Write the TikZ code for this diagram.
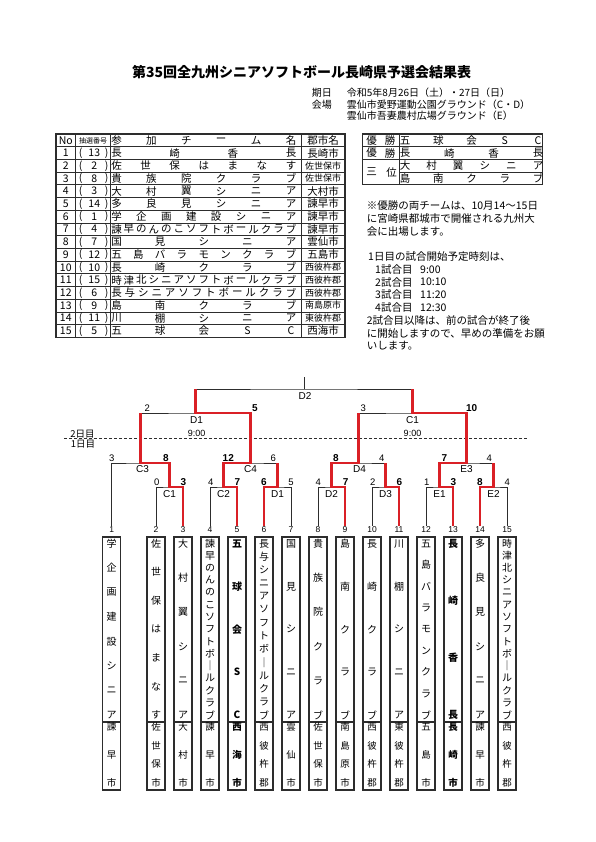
\documentclass[tikz,border=0pt]{standalone}
\usepackage{fontspec}
\setmainfont{Noto Sans CJK JP}
\newfontfamily\arl{Liberation Sans}
\usepackage{tikz}
\usetikzlibrary{calc}
\definecolor{figline}{RGB}{45,45,45}
\definecolor{winred}{RGB}{218,32,38}
\tikzset{
  bk/.style  ={draw=figline, line width=0.7pt},
  rd/.style  ={draw=winred, line width=2.4pt, line join=miter},
  tbl/.style ={draw=figline, line width=0.6pt},
  tblb/.style={draw=figline, line width=1.2pt},
  tbox/.style={draw=figline, line width=1.2pt},
  jp/.style  ={font=\fontsize{10.5}{12}\selectfont, inner sep=0pt},
  jph/.style ={font=\fontsize{10}{12}\selectfont, inner sep=0pt, anchor=west},
  jps/.style ={font=\fontsize{9}{10}\selectfont, inner sep=0pt},
  jpt/.style ={font=\fontsize{7}{8}\selectfont, inner sep=0pt},
  note/.style={font=\fontsize{10.5}{12}\selectfont, inner sep=0pt, anchor=west},
  vj/.style  ={font=\fontsize{10}{11}\selectfont, inner sep=0pt},
  vjb/.style ={font=\bfseries\fontsize{10}{11}\selectfont, inner sep=0pt},
  vr/.style  ={font=\fontsize{9.5}{10}\selectfont, inner sep=0pt},
  vrb/.style ={font=\bfseries\fontsize{9.5}{10}\selectfont, inner sep=0pt},
  scr/.style ={font=\arl\fontsize{9.5}{10}\selectfont, inner sep=0.5pt, anchor=south},
  scw/.style ={scr, font=\arl\bfseries\fontsize{10}{11}\selectfont},
  mlab/.style={font=\arl\fontsize{10}{11}\selectfont, inner sep=0pt},
  tlab/.style={font=\arl\fontsize{9}{10}\selectfont, inner sep=0pt},
  tno/.style ={font=\arl\fontsize{8.5}{9}\selectfont, inner sep=1pt},
  day/.style ={font=\fontsize{9.5}{10}\selectfont, inner sep=0pt},
}
% characters spread evenly over a cell (horizontal / vertical)
\newcommand\spreadx[6][]{%
  \xdef\nitems{0}%
  \foreach \kana in {#6}{\pgfmathtruncatemacro\tmpn{\nitems+1}\global\let\nitems\tmpn}%
  \foreach \kana [count=\i from 0] in {#6}{%
    \pgfmathsetmacro\chpos{#3+(#4-#3)*\i/(\nitems-1)}%
    \node[jp,#1] (#2-\i) at (\chpos,#5) {\kana};}%
}
\newcommand\spready[6][vj]{%
  \xdef\nitems{0}%
  \foreach \kana in {#6}{\pgfmathtruncatemacro\tmpn{\nitems+1}\global\let\nitems\tmpn}%
  \foreach \kana [count=\i from 0] in {#6}{%
    \pgfmathsetmacro\chpos{#4+(#5-#4)*\i/(\nitems-1)}%
    \node[#1] (#2-\i) at (#3,\chpos) {\kana};}%
}

\begin{document}
\begin{tikzpicture}[x=1pt,y=-1pt]
  \path[fill=white,use as bounding box] (0,0) rectangle (595,842);
  % title and dates
  \node[font=\bfseries\fontsize{14}{16}\selectfont, inner sep=0pt] (title) at (301.7,71.7) {第35回全九州シニアソフトボール長崎県予選会結果表};
  \node[jph] (kijitsu) at (311.7,92.7) {期日};
  \node[jph] (kijitsuv) at (346.7,92.7) {令和5年8月26日（土）・27日（日）};
  \node[jph] (kaijo) at (311.7,104.3) {会場};
  \node[jph] (kaijov1) at (346.7,104.3) {雲仙市愛野運動公園グラウンド（C・D）};
  \node[jph] (kaijov2) at (346.7,115.7) {雲仙市吾妻農村広場グラウンド（E）};

  % entry table
  \draw[tblb] (56,134) rectangle (345,337.2);
  \draw[tbl] (56,146.7) -- (345,146.7);
  \draw[tbl] (56,159.4) -- (345,159.4);
  \draw[tbl] (56,172.1) -- (345,172.1);
  \draw[tbl] (56,184.8) -- (345,184.8);
  \draw[tbl] (56,197.5) -- (345,197.5);
  \draw[tbl] (56,210.2) -- (345,210.2);
  \draw[tbl] (56,222.9) -- (345,222.9);
  \draw[tbl] (56,235.6) -- (345,235.6);
  \draw[tbl] (56,248.3) -- (345,248.3);
  \draw[tbl] (56,261) -- (345,261);
  \draw[tbl] (56,273.7) -- (345,273.7);
  \draw[tbl] (56,286.4) -- (345,286.4);
  \draw[tbl] (56,299.1) -- (345,299.1);
  \draw[tbl] (56,311.8) -- (345,311.8);
  \draw[tbl] (56,324.5) -- (345,324.5);
  \draw[tbl] (75.7,134) -- (75.7,337.2);
  \draw[tbl] (110.7,134) -- (110.7,337.2);
  \draw[tbl] (301,134) -- (301,337.2);
  \node[jp] (hno) at (65.8,140.35) {No};
  \node[jpt] (hlot) at (93.2,140.35) {抽選番号};
  \spreadx{hteam}{116.5}{291}{140.35}{参,加,チ,ー,ム,名}
  \node[jp] (hcity) at (323,140.35) {郡市名};
  \node[jp] (no1) at (65.8,153.05) {1}; \node[jp] (lb1) at (80.7,153.05) {(}; \node[jp] (lot1) at (94.3,153.05) {13}; \node[jp] (rb1) at (106.7,153.05) {)};
  \spreadx{tm1}{116.5}{291}{153.05}{長,崎,香,長} \node[jp] (ci1) at (323,153.05) {長崎市};
  \node[jp] (no2) at (65.8,165.75) {2}; \node[jp] (lb2) at (80.7,165.75) {(}; \node[jp] (lot2) at (94.3,165.75) {2}; \node[jp] (rb2) at (106.7,165.75) {)};
  \spreadx{tm2}{116.5}{291}{165.75}{佐,世,保,は,ま,な,す} \node[jps] (ci2) at (323,165.75) {佐世保市};
  \node[jp] (no3) at (65.8,178.45) {3}; \node[jp] (lb3) at (80.7,178.45) {(}; \node[jp] (lot3) at (94.3,178.45) {8}; \node[jp] (rb3) at (106.7,178.45) {)};
  \spreadx{tm3}{116.5}{291}{178.45}{貴,族,院,ク,ラ,ブ} \node[jps] (ci3) at (323,178.45) {佐世保市};
  \node[jp] (no4) at (65.8,191.15) {4}; \node[jp] (lb4) at (80.7,191.15) {(}; \node[jp] (lot4) at (94.3,191.15) {3}; \node[jp] (rb4) at (106.7,191.15) {)};
  \spreadx{tm4}{116.5}{291}{191.15}{大,村,翼,シ,ニ,ア} \node[jp] (ci4) at (323,191.15) {大村市};
  \node[jp] (no5) at (65.8,203.85) {5}; \node[jp] (lb5) at (80.7,203.85) {(}; \node[jp] (lot5) at (94.3,203.85) {14}; \node[jp] (rb5) at (106.7,203.85) {)};
  \spreadx{tm5}{116.5}{291}{203.85}{多,良,見,シ,ニ,ア} \node[jp] (ci5) at (323,203.85) {諫早市};
  \node[jp] (no6) at (65.8,216.55) {6}; \node[jp] (lb6) at (80.7,216.55) {(}; \node[jp] (lot6) at (94.3,216.55) {1}; \node[jp] (rb6) at (106.7,216.55) {)};
  \spreadx{tm6}{116.5}{291}{216.55}{学,企,画,建,設,シ,ニ,ア} \node[jp] (ci6) at (323,216.55) {諫早市};
  \node[jp] (no7) at (65.8,229.25) {7}; \node[jp] (lb7) at (80.7,229.25) {(}; \node[jp] (lot7) at (94.3,229.25) {4}; \node[jp] (rb7) at (106.7,229.25) {)};
  \spreadx{tm7}{116.5}{291}{229.25}{諫,早,の,ん,の,こ,ソ,フ,ト,ボ,ー,ル,ク,ラ,ブ} \node[jp] (ci7) at (323,229.25) {諫早市};
  \node[jp] (no8) at (65.8,241.95) {8}; \node[jp] (lb8) at (80.7,241.95) {(}; \node[jp] (lot8) at (94.3,241.95) {7}; \node[jp] (rb8) at (106.7,241.95) {)};
  \spreadx{tm8}{116.5}{291}{241.95}{国,見,シ,ニ,ア} \node[jp] (ci8) at (323,241.95) {雲仙市};
  \node[jp] (no9) at (65.8,254.65) {9}; \node[jp] (lb9) at (80.7,254.65) {(}; \node[jp] (lot9) at (94.3,254.65) {12}; \node[jp] (rb9) at (106.7,254.65) {)};
  \spreadx{tm9}{116.5}{291}{254.65}{五,島,バ,ラ,モ,ン,ク,ラ,ブ} \node[jp] (ci9) at (323,254.65) {五島市};
  \node[jp] (no10) at (65.8,267.35) {10}; \node[jp] (lb10) at (80.7,267.35) {(}; \node[jp] (lot10) at (94.3,267.35) {10}; \node[jp] (rb10) at (106.7,267.35) {)};
  \spreadx{tm10}{116.5}{291}{267.35}{長,崎,ク,ラ,ブ} \node[jps] (ci10) at (323,267.35) {西彼杵郡};
  \node[jp] (no11) at (65.8,280.05) {11}; \node[jp] (lb11) at (80.7,280.05) {(}; \node[jp] (lot11) at (94.3,280.05) {15}; \node[jp] (rb11) at (106.7,280.05) {)};
  \spreadx{tm11}{116.5}{291}{280.05}{時,津,北,シ,ニ,ア,ソ,フ,ト,ボ,ー,ル,ク,ラ,ブ} \node[jps] (ci11) at (323,280.05) {西彼杵郡};
  \node[jp] (no12) at (65.8,292.75) {12}; \node[jp] (lb12) at (80.7,292.75) {(}; \node[jp] (lot12) at (94.3,292.75) {6}; \node[jp] (rb12) at (106.7,292.75) {)};
  \spreadx{tm12}{116.5}{291}{292.75}{長,与,シ,ニ,ア,ソ,フ,ト,ボ,ー,ル,ク,ラ,ブ} \node[jps] (ci12) at (323,292.75) {西彼杵郡};
  \node[jp] (no13) at (65.8,305.45) {13}; \node[jp] (lb13) at (80.7,305.45) {(}; \node[jp] (lot13) at (94.3,305.45) {9}; \node[jp] (rb13) at (106.7,305.45) {)};
  \spreadx{tm13}{116.5}{291}{305.45}{島,南,ク,ラ,ブ} \node[jps] (ci13) at (323,305.45) {南島原市};
  \node[jp] (no14) at (65.8,318.15) {14}; \node[jp] (lb14) at (80.7,318.15) {(}; \node[jp] (lot14) at (94.3,318.15) {11}; \node[jp] (rb14) at (106.7,318.15) {)};
  \spreadx{tm14}{116.5}{291}{318.15}{川,棚,シ,ニ,ア} \node[jps] (ci14) at (323,318.15) {東彼杵郡};
  \node[jp] (no15) at (65.8,330.85) {15}; \node[jp] (lb15) at (80.7,330.85) {(}; \node[jp] (lot15) at (94.3,330.85) {5}; \node[jp] (rb15) at (106.7,330.85) {)};
  \spreadx{tm15}{116.5}{291}{330.85}{五,球,会,S,C} \node[jp] (ci15) at (323,330.85) {西海市};

  % result table
  \draw[tblb] (362.7,134) rectangle (542.7,184.8);
  \draw[tbl] (399.3,134) -- (399.3,184.8);
  \draw[tblb] (362.7,146.7) -- (542.7,146.7);
  \draw[tblb] (362.7,159.4) -- (542.7,159.4);
  \draw[tbl] (399.3,172.1) -- (542.7,172.1);
  \spreadx{win1}{371.7}{390}{140.35}{優,勝} \spreadx{wt1}{405}{538}{140.35}{五,球,会,S,C}
  \spreadx{win2}{371.7}{390}{153.05}{優,勝} \spreadx{wt2}{405}{538}{153.05}{長,崎,香,長}
  \spreadx{third}{371.7}{391.7}{172.1}{三,位}
  \spreadx{tt1}{405}{538}{165.75}{大,村,翼,シ,ニ,ア}
  \spreadx{tt2}{405}{538}{178.45}{島,南,ク,ラ,ブ}

  % notes
  \node[note] (nt1) at (366.7,206) {※優勝の両チームは、10月14～15日};
  \node[note] (nt2) at (366.7,218.7) {に宮崎県都城市で開催される九州大};
  \node[note] (nt3) at (366.7,231.4) {会に出場します。};
  \node[note] (nt4) at (368,256.8) {1日目の試合開始予定時刻は、};
  \node[note] (g1) at (375,269.5) {1試合目}; \node[note] (g1t) at (420,269.5) {9:00};
  \node[note] (g2) at (375,282.2) {2試合目}; \node[note] (g2t) at (420,282.2) {10:10};
  \node[note] (g3) at (375,294.9) {3試合目}; \node[note] (g3t) at (420,294.9) {11:20};
  \node[note] (g4) at (375,307.6) {4試合目}; \node[note] (g4t) at (420,307.6) {12:30};
  \node[note] (nt5) at (366.7,320.3) {2試合目以降は、前の試合が終了後};
  \node[note] (nt6) at (366.7,333) {に開始しますので、早めの準備をお願};
  \node[note] (nt7) at (366.7,345.7) {いします。};

  % day separator
  \draw[figline, line width=0.8pt, dash pattern=on 3pt off 2pt] (64,438.5) -- (527,438.5);
  \node[day] (day2) at (82.5,434) {2日目};
  \node[day] (day1) at (83,444) {1日目};

  % team numbers
  \node[tno] (n1) at (111.7,530) {1};
  \node[tno] (n2) at (156,530) {2};
  \node[tno] (n3) at (183,530) {3};
  \node[tno] (n4) at (210,530) {4};
  \node[tno] (n5) at (237,530) {5};
  \node[tno] (n6) at (264,530) {6};
  \node[tno] (n7) at (291,530) {7};
  \node[tno] (n8) at (318,530) {8};
  \node[tno] (n9) at (345,530) {9};
  \node[tno] (n10) at (372,530) {10};
  \node[tno] (n11) at (399,530) {11};
  \node[tno] (n12) at (426,530) {12};
  \node[tno] (n13) at (453,530) {13};
  \node[tno] (n14) at (480,530) {14};
  \node[tno] (n15) at (507,530) {15};

  % team boxes
  \draw[tbox] (102.7,537) rectangle (120.7,790) (102.7,722) -- (120.7,722);
  \draw[tbox] (147,537) rectangle (165,790) (147,722) -- (165,722);
  \draw[tbox] (174,537) rectangle (192,790) (174,722) -- (192,722);
  \draw[tbox] (201,537) rectangle (219,790) (201,722) -- (219,722);
  \draw[tbox] (228,537) rectangle (246,790) (228,722) -- (246,722);
  \draw[tbox] (255,537) rectangle (273,790) (255,722) -- (273,722);
  \draw[tbox] (282,537) rectangle (300,790) (282,722) -- (300,722);
  \draw[tbox] (309,537) rectangle (327,790) (309,722) -- (327,722);
  \draw[tbox] (336,537) rectangle (354,790) (336,722) -- (354,722);
  \draw[tbox] (363,537) rectangle (381,790) (363,722) -- (381,722);
  \draw[tbox] (390,537) rectangle (408,790) (390,722) -- (408,722);
  \draw[tbox] (417,537) rectangle (435,790) (417,722) -- (435,722);
  \draw[tbox] (444,537) rectangle (462,790) (444,722) -- (462,722);
  \draw[tbox] (471,537) rectangle (489,790) (471,722) -- (489,722);
  \draw[tbox] (498,537) rectangle (516,790) (498,722) -- (516,722);
  \spready{b1}{111.7}{543.5}{715}{学,企,画,建,設,シ,ニ,ア}     \spready[vr]{r1}{111.7}{727}{783}{諫,早,市}
  \spready{b2}{156}{543.5}{715}{佐,世,保,は,ま,な,す}         \spready[vr]{r2}{156}{727}{783}{佐,世,保,市}
  \spready{b3}{183}{543.5}{715}{大,村,翼,シ,ニ,ア}           \spready[vr]{r3}{183}{727}{783}{大,村,市}
  \spready{b4}{210}{543.5}{715}{諫,早,の,ん,の,こ,ソ,フ,ト,ボ,｜,ル,ク,ラ,ブ} \spready[vr]{r4}{210}{727}{783}{諫,早,市}
  \spready[vjb]{b5}{237}{543.5}{715}{五,球,会,S,C}            \spready[vrb]{r5}{237}{727}{783}{西,海,市}
  \spready{b6}{264}{543.5}{715}{長,与,シ,ニ,ア,ソ,フ,ト,ボ,｜,ル,ク,ラ,ブ} \spready[vr]{r6}{264}{727}{783}{西,彼,杵,郡}
  \spready{b7}{291}{543.5}{715}{国,見,シ,ニ,ア}               \spready[vr]{r7}{291}{727}{783}{雲,仙,市}
  \spready{b8}{318}{543.5}{715}{貴,族,院,ク,ラ,ブ}           \spready[vr]{r8}{318}{727}{783}{佐,世,保,市}
  \spready{b9}{345}{543.5}{715}{島,南,ク,ラ,ブ}               \spready[vr]{r9}{345}{727}{783}{南,島,原,市}
  \spready{b10}{372}{543.5}{715}{長,崎,ク,ラ,ブ}              \spready[vr]{r10}{372}{727}{783}{西,彼,杵,郡}
  \spready{b11}{399}{543.5}{715}{川,棚,シ,ニ,ア}              \spready[vr]{r11}{399}{727}{783}{東,彼,杵,郡}
  \spready{b12}{426}{543.5}{715}{五,島,バ,ラ,モ,ン,ク,ラ,ブ}  \spready[vr]{r12}{426}{727}{783}{五,島,市}
  \spready[vjb]{b13}{453}{543.5}{715}{長,崎,香,長}            \spready[vrb]{r13}{453}{727}{783}{長,崎,市}
  \spready{b14}{480}{543.5}{715}{多,良,見,シ,ニ,ア}          \spready[vr]{r14}{480}{727}{783}{諫,早,市}
  \spready{b15}{507}{543.5}{715}{時,津,北,シ,ニ,ア,ソ,フ,ト,ボ,｜,ル,ク,ラ,ブ} \spready[vr]{r15}{507}{727}{783}{西,彼,杵,郡}

  % match points
  \coordinate (c1) at (169.5,487);
  \coordinate (c2) at (223.5,487);
  \coordinate (d1) at (277.5,487);
  \coordinate (d2) at (331.5,487);
  \coordinate (d3) at (385.5,487);
  \coordinate (e1) at (439.5,487);
  \coordinate (e2) at (493.5,487);
  \coordinate (c3) at (140.6,463);
  \coordinate (c4) at (250.5,463);
  \coordinate (d4) at (358.5,463);
  \coordinate (e3) at (466.5,463);
  \coordinate (sd1) at (195.55,413);
  \coordinate (sc1) at (412.5,413);
  \coordinate (fd2) at (304,389);
  \coordinate (top) at (304,377);

  % bracket
  \draw[bk] (n2.north) |- (c1) -| (n3.north);
  \draw[bk] (n4.north) |- (c2) -| (n5.north);
  \draw[bk] (n6.north) |- (d1) -| (n7.north);
  \draw[bk] (n8.north) |- (d2) -| (n9.north);
  \draw[bk] (n10.north) |- (d3) -| (n11.north);
  \draw[bk] (n12.north) |- (e1) -| (n13.north);
  \draw[bk] (n14.north) |- (e2) -| (n15.north);
  \draw[bk] (n1.north) |- (c3) -| (c1);
  \draw[bk] (c2) |- (c4) -| (d1);
  \draw[bk] (d2) |- (d4) -| (d3);
  \draw[bk] (e1) |- (e3) -| (e2);
  \draw[bk] (c3) |- (sd1) -| (c4);
  \draw[bk] (d4) |- (sc1) -| (e3);
  \draw[bk] (sd1) |- (fd2) -| (sc1);
  \draw[bk] (fd2) -- (top);

  % winners
  \draw[rd] (n3.north) |- (c1) |- (c3) -- (c3 |- sd1);
  \draw[rd] (n5.north) |- (c2) |- (c4) |- (sd1) -- (sd1 |- fd2);
  \draw[rd] (n6.north) |- (d1) -- (d1 |- c4);
  \draw[rd] (n9.north) |- (d2) |- (d4) -- (d4 |- sc1);
  \draw[rd] (n11.north) |- (d3) -- (d3 |- d4);
  \draw[rd] (n13.north) |- (e1) |- (e3) |- (sc1) -- (sc1 |- fd2);
  \draw[rd] (n14.north) |- (e2) -- (e2 |- e3);

  % scores
  \node[scr] (c1L) at (156.7,486) {0};  \node[scw] (c1R) at (183.3,486) {3};
  \node[scr] (c2L) at (210.7,486) {4};  \node[scw] (c2R) at (237.3,486) {7};
  \node[scw] (d1L) at (264,486) {6};    \node[scr] (d1R) at (291,486) {5};
  \node[scr] (d2L) at (318.3,486) {4};  \node[scw] (d2R) at (345.7,486) {7};
  \node[scr] (d3L) at (372.7,486) {2};  \node[scw] (d3R) at (399.3,486) {6};
  \node[scr] (e1L) at (426.7,486) {1};  \node[scw] (e1R) at (453.3,486) {3};
  \node[scw] (e2L) at (480,486) {8};    \node[scr] (e2R) at (507.3,486) {4};
  \node[scr] (c3L) at (111.7,462) {3};  \node[scw] (c3R) at (166,462) {8};
  \node[scw] (c4L) at (228.3,462) {12}; \node[scr] (c4R) at (273.3,462) {6};
  \node[scw] (d4L) at (336,462) {8};    \node[scr] (d4R) at (381.7,462) {4};
  \node[scw] (e3L) at (444.3,462) {7};  \node[scr] (e3R) at (489.3,462) {4};
  \node[scr] (sd1L) at (147.3,412) {2}; \node[scw] (sd1R) at (255,412) {5};
  \node[scr] (sc1L) at (363.3,412) {3}; \node[scw] (sc1R) at (471.7,412) {10};

  % match labels
  \node[mlab] (lc1) at ($(c1)+(0,7)$) {C1};
  \node[mlab] (lc2) at ($(c2)+(0,7)$) {C2};
  \node[mlab] (ld1) at ($(d1)+(0,7)$) {D1};
  \node[mlab] (ld2) at ($(d2)+(0,7)$) {D2};
  \node[mlab] (ld3) at ($(d3)+(0,7)$) {D3};
  \node[mlab] (le1) at ($(e1)+(0,7)$) {E1};
  \node[mlab] (le2) at ($(e2)+(0,7)$) {E2};
  \node[mlab] (lc3) at ($(c3)+(2,6.5)$) {C3};
  \node[mlab] (lc4) at ($(c4)+(0,6.5)$) {C4};
  \node[mlab] (ld4) at ($(d4)+(1,6.5)$) {D4};
  \node[mlab] (le3) at ($(e3)+(0,6.5)$) {E3};
  \node[mlab] (lsd1) at ($(sd1)+(1,7.5)$) {D1};
  \node[tlab] (tsd1) at ($(sd1)+(1,20.3)$) {9:00};
  \node[mlab] (lsc1) at ($(sc1)+(0,7.5)$) {C1};
  \node[tlab] (tsc1) at ($(sc1)+(0,20.3)$) {9:00};
  \node[mlab] (lfd2) at ($(fd2)+(1,7)$) {D2};
\end{tikzpicture}
\end{document}
